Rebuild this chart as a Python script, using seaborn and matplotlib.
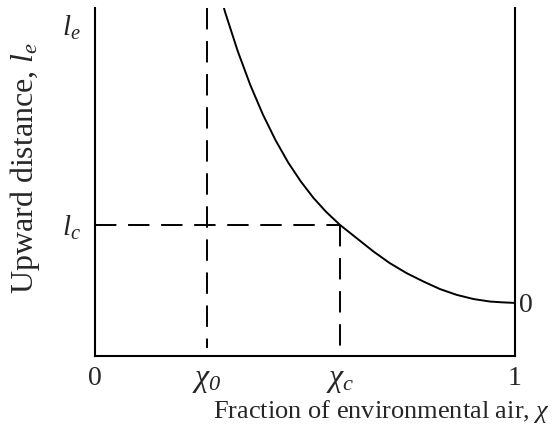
import matplotlib
matplotlib.use("Agg")
import matplotlib.pyplot as plt
import seaborn as sns
import pandas as pd

# Curve: fraction of environmental air vs upward distance (l_e = 1)
chi = [0.307, 0.310, 0.340, 0.370, 0.400, 0.430, 0.460, 0.490, 0.520, 0.550,
       0.583, 0.623, 0.663, 0.702, 0.742, 0.782, 0.821, 0.861, 0.901, 0.940,
       0.970, 1.0]
dist = [1.061, 1.045, 0.905, 0.783, 0.677, 0.585, 0.505, 0.437, 0.378, 0.328,
        0.281, 0.233, 0.185, 0.143, 0.107, 0.077, 0.050, 0.029, 0.014, 0.005,
        0.002, 0.0]

chi0 = 0.267
chic = 0.583
lc = 0.281
le = 1.0

xtick_vals = [0.0, chi0, chic, 1.0]
xtick_labels = ['0', r'$\chi_{0}$', r'$\chi_{c}$', '1']
ytick_vals = [le, lc]
ytick_labels = [r'$l_e$', r'$l_c$']

sns.set_style('white')
plt.rcParams['font.family'] = ['Liberation Serif', 'DejaVu Serif']
plt.rcParams['mathtext.fontset'] = 'custom'
plt.rcParams['mathtext.rm'] = 'Liberation Serif:italic'
plt.rcParams['mathtext.it'] = 'Liberation Serif:italic'
plt.rcParams['mathtext.bf'] = 'Liberation Serif:bold'

fig = plt.figure(figsize=(5.53, 4.32), dpi=100)
ax = fig.add_axes([95/553, 1 - 356/432, 420/553, 348/432])

df = pd.DataFrame({'chi': chi, 'dist': dist})
sns.lineplot(data=df, x='chi', y='dist', ax=ax, color='black', lw=1.4,
             sort=False, estimator=None)

ymin = -0.191
ymax = 1.061
dash = (0, (11, 6))
gap_bottom = ymin + 0.028
ax.plot([0, chic], [lc, lc], color='black', lw=1.4, linestyle=dash)
ax.plot([chi0, chi0], [ymax, gap_bottom], color='black', lw=1.4, linestyle=dash)
ax.plot([chic, chic], [lc, gap_bottom], color='black', lw=1.4, linestyle=dash)

ax.set_xlim(0, 1)
ax.set_ylim(ymin, ymax)

for s in ['left', 'right', 'bottom']:
    ax.spines[s].set_visible(True)
    ax.spines[s].set_color('black')
    ax.spines[s].set_linewidth(1.5)
ax.spines['top'].set_visible(False)

ax.set_xticks(xtick_vals)
ax.set_xticklabels(xtick_labels)
for lab, fs in zip(ax.get_xticklabels(), [20, 23, 23, 20]):
    lab.set_fontsize(fs)
ax.set_yticks(ytick_vals)
ax.set_yticklabels(ytick_labels, fontsize=21)
ax.tick_params(axis='x', length=0, pad=7)
ax.tick_params(axis='y', length=0, pad=10)

sec = ax.secondary_yaxis('right')
sec.set_yticks([0])
sec.set_yticklabels(['0'], fontsize=20)
sec.tick_params(length=0, pad=3)
sec.spines['right'].set_visible(False)

ax.set_xlabel(r'Fraction of environmental air, $\chi$', fontsize=19)
ax.xaxis.set_label_coords(1.083, -0.16)
ax.xaxis.label.set_ha('right')
ax.xaxis.label.set_va('center')
ax.set_ylabel(r'Upward distance, $l_e$', fontsize=23)
ax.yaxis.set_label_coords(-0.167, 0.54)
ax.yaxis.label.set_va('center')

ax.grid(False)
fig.savefig('out.png', dpi=100)
